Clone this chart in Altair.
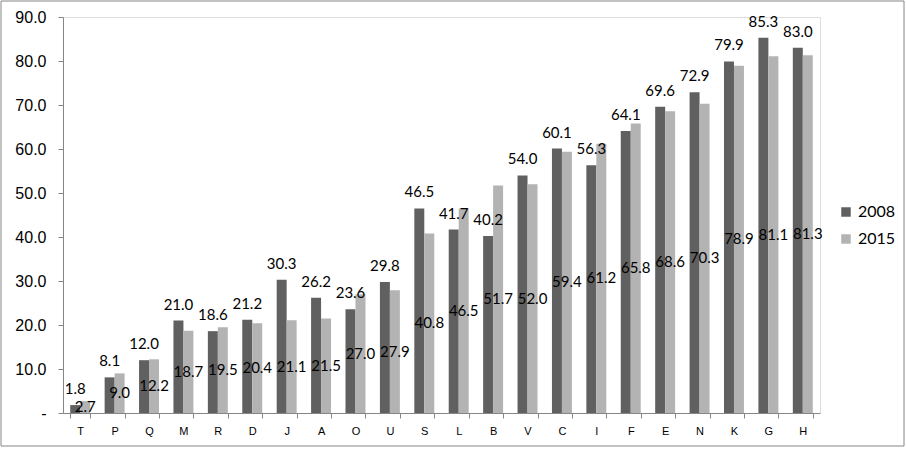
import altair as alt
import pandas as pd

categories = ["T", "P", "Q", "M", "R", "D", "J", "A", "O", "U", "S",
              "L", "B", "V", "C", "I", "F", "E", "N", "K", "G", "H"]
values_2008 = [1.8, 8.1, 12.0, 21.0, 18.6, 21.2, 30.3, 26.2, 23.6, 29.8, 46.5,
               41.7, 40.2, 54.0, 60.1, 56.3, 64.1, 69.6, 72.9, 79.9, 85.3, 83.0]
values_2015 = [2.7, 9.0, 12.2, 18.7, 19.5, 20.4, 21.1, 21.5, 27.0, 27.9, 40.8,
               46.5, 51.7, 52.0, 59.4, 61.2, 65.8, 68.6, 70.3, 78.9, 81.1, 81.3]
series = ["2008", "2015"]

rows = []
for c, a, b in zip(categories, values_2008, values_2015):
    rows.append({"cat": c, "year": "2008", "v": a})
    rows.append({"cat": c, "year": "2015", "v": b})
df = pd.DataFrame(rows)

FONT = "Lato"
W, H = 757, 396

xenc = alt.X("cat:N", sort=categories, title=None,
             scale=alt.Scale(paddingInner=0.42, paddingOuter=0.21),
             axis=alt.Axis(labelAngle=0, labelFontSize=11, labelColor="#000000",
                           domainColor="#868686", tickColor="#868686", tickSize=5,
                           tickBand="extent", labelPadding=7, grid=False))
yenc = alt.Y("v:Q", title=None,
             scale=alt.Scale(domain=[0, 90], nice=False),
             axis=alt.Axis(values=list(range(0, 91, 10)),
                           labelExpr="datum.value == 0 ? '-' : format(datum.value, '.1f')",
                           labelFontSize=16, labelColor="#000000", labelPadding=12,
                           domainColor="#868686", tickColor="#868686", tickSize=5,
                           grid=False))

base = alt.Chart(df)

bars = base.mark_bar().encode(
    x=xenc,
    xOffset=alt.XOffset("year:N", sort=series),
    y=yenc,
    color=alt.Color("year:N", sort=series,
                    scale=alt.Scale(domain=series, range=["#606060", "#b3b3b3"]),
                    legend=alt.Legend(title=None, orient="none", legendX=775, legendY=187,
                                      symbolType="square", symbolSize=90,
                                      symbolStrokeWidth=0, labelFontSize=16,
                                      labelFont=FONT, labelColor="#000000",
                                      rowPadding=11, labelOffset=4)),
)

labels_2008 = base.transform_filter("datum.year == '2008'").mark_text(
    baseline="alphabetic", dy=-11, fontSize=15, font=FONT, color="#000000"
).encode(
    x=alt.X("cat:N", sort=categories),
    xOffset=alt.XOffset("year:N", sort=series),
    y="v:Q",
    text=alt.Text("v:Q", format=".1f"),
)

labels_2015 = base.transform_filter("datum.year == '2015'").transform_calculate(
    mid="datum.v / 2"
).mark_text(
    baseline="middle", fontSize=15, font=FONT, color="#000000"
).encode(
    x=alt.X("cat:N", sort=categories),
    xOffset=alt.XOffset("year:N", sort=series),
    y="mid:Q",
    text=alt.Text("v:Q", format=".1f"),
)

frame = alt.Chart(pd.DataFrame({"a": [0]})).mark_rect(
    fill=None, stroke="#868686", strokeWidth=1
).encode(
    x=alt.value(-62), x2=alt.value(W + 84),
    y=alt.value(-16), y2=alt.value(H + 33),
)

chart = alt.layer(bars, labels_2008, labels_2015, frame).properties(
    width=W, height=H,
    autosize=alt.AutoSizeParams(type="none"),
    padding={"left": 63, "top": 17, "right": 86, "bottom": 36},
).configure_view(stroke=None).configure_axis(
    labelFont=FONT
).configure(background="#ffffff")

chart.save("out.html", embed_options={"renderer": "svg", "actions": False})
